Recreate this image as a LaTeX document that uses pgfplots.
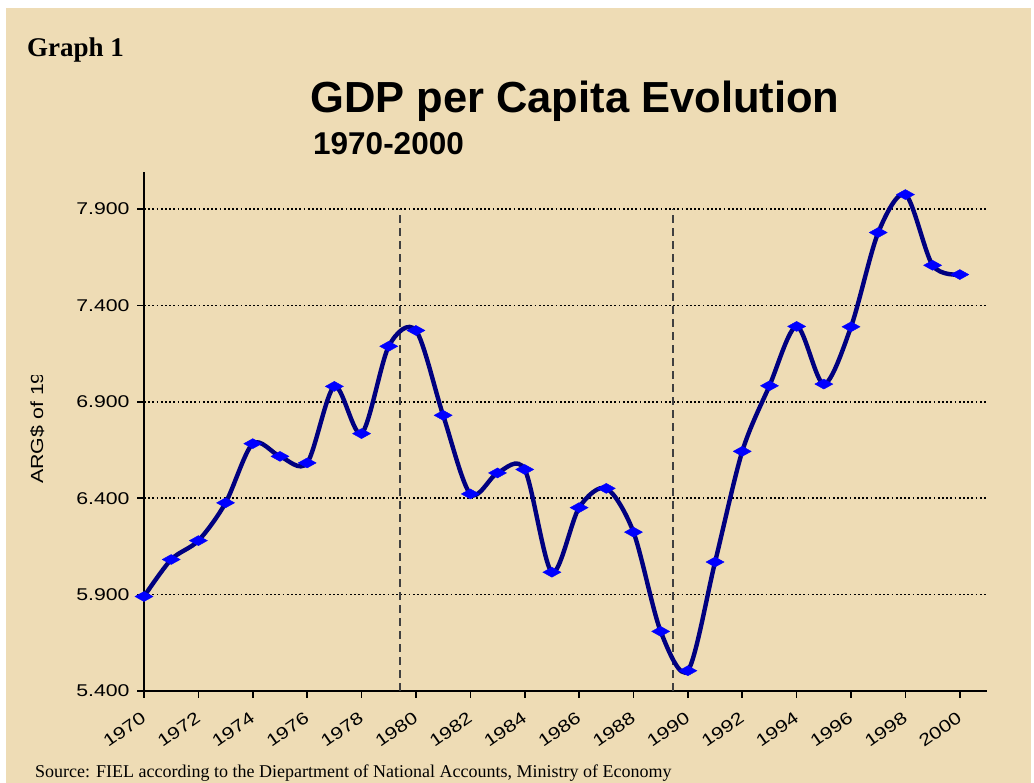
\documentclass[border=0pt]{standalone}
\usepackage{fontspec}
\setmainfont{Liberation Serif}
\newfontfamily\arial{Liberation Sans}
\newfontfamily\tickfont[FakeStretch=1.25]{Liberation Sans}
\newfontfamily\labfont[FakeStretch=1.22]{Liberation Sans}
\usepackage{pgfplots}
\usepackage{pgfplotstable}
\pgfplotsset{compat=1.18}
\definecolor{parch}{RGB}{238,220,181}
\definecolor{navyline}{RGB}{0,0,128}
\definecolor{markblue}{RGB}{0,0,255}

% GDP per capita, ARG$
\pgfplotstableread{
year gdp
1970 5890
1971 6082
1972 6180
1973 6376
1974 6683
1975 6617
1976 6583
1977 6980
1978 6735
1979 7188
1980 7270
1981 6830
1982 6422
1983 6531
1984 6549
1985 6016
1986 6351
1987 6451
1988 6224
1989 5709
1990 5505
1991 6069
1992 6643
1993 6983
1994 7291
1995 6992
1996 7289
1997 7778
1998 7975
1999 7608
2000 7560
}\gdptable

\begin{document}
\begin{tikzpicture}[x=1pt,y=1pt]
\fill[white] (0,0) rectangle (1034,783);
\fill[parch] (6,0) rectangle (1031,775);

\node[anchor=base west, inner sep=0, font=\bfseries\fontsize{27}{30}\selectfont] at (27,726) {Graph 1};
\node[anchor=base west, inner sep=0, font=\arial\bfseries\fontsize{43.5}{48}\selectfont] at (310,670) {GDP per Capita Evolution};
\node[anchor=base west, inner sep=0, font=\arial\bfseries\fontsize{31.5}{35}\selectfont] at (313,628) {1970-2000};

\begin{scope}
  \clip (0,0) rectangle (100,407);
  \node[rotate=90, anchor=base west, inner sep=0, font=\labfont\fontsize{17.5}{20}\selectfont] at (43,299) {ARG\$ of 1993};
\end{scope}

\node[anchor=base west, inner sep=0, font=\fontsize{18}{20}\selectfont] at (35,5) {Source: FIEL according to the Diepartment of National Accounts, Ministry of Economy};

\begin{axis}[
    at={(144pt,92pt)}, anchor=south west,
    width=843pt, height=519pt, scale only axis,
    clip=false,
    xmin=1970, xmax=2001,
    ymin=5400, ymax=8092,
    axis lines*=left,
    axis line style={black, line width=2pt, -},
    tick align=outside,
    major tick length=7pt,
    tick style={black, line width=1.6pt},
    xtick={1970,1972,...,2000},
    xticklabels={1970,1972,1974,1976,1978,1980,1982,1984,1986,1988,1990,1992,1994,1996,1998,2000},
    ytick={5400,5900,6400,6900,7400,7900},
    yticklabels={5.400,5.900,6.400,6.900,7.400,7.900},
    ymajorgrids,
    major grid style={black, line width=1.8pt, dash pattern=on 1.8pt off 2.4pt},
    yticklabel style={font=\tickfont\fontsize{17}{19}\selectfont, xshift=-4pt},
    xticklabel style={font=\tickfont\fontsize{17}{19}\selectfont, rotate=35, anchor=north east, xshift=-7pt, yshift=-5pt},
  ]
  \draw[black!75, line width=2pt, dash pattern=on 8pt off 5pt] (axis cs:1979.4,5400) -- (axis cs:1979.4,7900);
  \draw[black!75, line width=2pt, dash pattern=on 8pt off 5pt] (axis cs:1989.45,5400) -- (axis cs:1989.45,7900);
  \addplot[navyline, line width=4.4pt, smooth, tension=0.5,
    mark=diamond*, mark size=5pt,
    mark options={xscale=2.4, fill=markblue, draw=markblue, line width=0.4pt, solid}]
    table[x=year, y=gdp] {\gdptable};
\end{axis}
\end{tikzpicture}
\end{document}
